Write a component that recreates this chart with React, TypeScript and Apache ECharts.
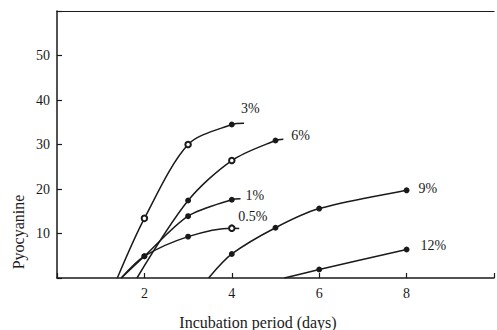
import React, { useEffect, useRef } from "react";
import * as echarts from "echarts";

const seriesNames = ["3%", "6%", "1%", "0.5%", "9%", "12%"];

const days3 = [1.38, 2, 3, 4, 4.28];
const vals3 = [0, 13.4, 30.0, 34.5, 34.8];
const marks3 = ["none", "open", "open", "dot", "none"];

const days6 = [1.83, 3, 4, 5, 5.18];
const vals6 = [0, 17.4, 26.4, 30.9, 31.2];
const marks6 = ["none", "dot", "open", "dot", "none"];

const days1 = [1.47, 2, 3, 4, 4.2];
const vals1 = [0, 4.9, 13.9, 17.6, 17.8];
const marks1 = ["none", "dot", "dot", "dot", "none"];

const days05 = [1.47, 2, 3, 4, 4.17];
const vals05 = [0, 4.9, 9.3, 11.2, 11.1];
const marks05 = ["none", "dot", "dot", "open", "none"];

const days9 = [3.47, 4, 5, 6, 8];
const vals9 = [0, 5.4, 11.3, 15.6, 19.7];
const marks9 = ["none", "dot", "dot", "dot", "dot"];

const days12 = [5.2, 6, 8];
const vals12 = [0, 1.9, 6.4];
const marks12 = ["none", "dot", "dot"];

const xTickLabels = ["2", "4", "6", "8"];
const yTickLabels = ["10", "20", "30", "40", "50"];

const FONT = "Liberation Serif";
const INK = "#1a1a1a";

// label offsets (styling only)
const labelOffsets: number[][] = [
  [-8, -15],
  [3, -4],
  [0, -3],
  [-6, -12],
  [7, -2],
  [9, -4],
];

function buildSeries(
  name: string,
  xs: number[],
  ys: number[],
  marks: string[],
  idx: number
) {
  const data = xs.map((x, i) => {
    const m = marks[i];
    const item: any = { value: [x, ys[i]] };
    if (m === "none") item.symbol = "none";
    else if (m === "open") {
      item.symbol = "emptyCircle";
      item.symbolSize = 5.5;
    } else {
      item.symbol = "circle";
      item.symbolSize = 4.5;
    }
    return item;
  });
  return {
    type: "line",
    name,
    data,
    smooth: 0.3,
    showAllSymbol: true,
    lineStyle: { color: INK, width: 1.5 },
    itemStyle: { color: INK, borderColor: INK, borderWidth: 1.4 },
    endLabel: {
      show: true,
      offset: labelOffsets[idx],
      distance: 5,
      formatter: name,
      fontFamily: FONT,
      fontSize: 14,
      color: INK,
    },
    emphasis: { disabled: true },
  };
}

export default function App() {
  const ref = useRef<HTMLDivElement>(null);
  useEffect(() => {
    document.body.style.margin = "0";
    const chart = echarts.init(ref.current!, null, { renderer: "svg" });
    const all = [
      [days3, vals3, marks3],
      [days6, vals6, marks6],
      [days1, vals1, marks1],
      [days05, vals05, marks05],
      [days9, vals9, marks9],
      [days12, vals12, marks12],
    ] as any[];
    chart.setOption({
      animation: false,
      backgroundColor: "#ffffff",
      grid: { left: 57, top: 11, width: 446, height: 267 },
      xAxis: [
        {
          type: "value",
          min: 0,
          max: 10,
          interval: 2,
          axisLine: { show: true, lineStyle: { color: INK, width: 1.5 } },
          axisTick: { show: true, inside: true, length: 5, lineStyle: { color: INK, width: 1.2 } },
          splitLine: { show: false },
          axisLabel: {
            margin: 8,
            fontFamily: FONT,
            fontSize: 14,
            color: INK,
            formatter: (v: number) => {
              const s = String(v);
              return xTickLabels.includes(s) ? s : "";
            },
          },
        },
        {
          type: "value",
          position: "top",
          min: 0,
          max: 10,
          axisLine: { show: true, lineStyle: { color: INK, width: 1.2 } },
          axisTick: { show: false },
          axisLabel: { show: false },
          splitLine: { show: false },
        },
      ],
      yAxis: {
        type: "value",
        min: 0,
        max: 60,
        interval: 10,
        axisLine: { show: true, lineStyle: { color: INK, width: 1.5 } },
        axisTick: { show: true, inside: true, length: 5, lineStyle: { color: INK, width: 1.2 } },
        splitLine: { show: false },
        axisLabel: {
          margin: 7,
          fontFamily: FONT,
          fontSize: 14,
          color: INK,
          formatter: (v: number) => {
            const s = String(v);
            return yTickLabels.includes(s) ? s : "";
          },
        },
      },
      graphic: [
        {
          type: "text",
          x: 18,
          y: 232,
          rotation: Math.PI / 2,
          style: {
            text: "Pyocyanine",
            fontFamily: FONT,
            fontSize: 16,
            fill: INK,
            align: "center",
            verticalAlign: "middle",
          },
        },
        {
          type: "text",
          x: 258,
          y: 322,
          style: {
            text: "Incubation period (days)",
            fontFamily: FONT,
            fontSize: 16,
            fill: INK,
            align: "center",
            verticalAlign: "middle",
          },
        },
      ],
      series: all.map((a, i) => buildSeries(seriesNames[i], a[0], a[1], a[2], i)),
    });
    return () => chart.dispose();
  }, []);
  return (
    <div
      ref={ref}
      style={{ position: "absolute", left: 0, top: 0, width: 497, height: 330 }}
    />
  );
}
